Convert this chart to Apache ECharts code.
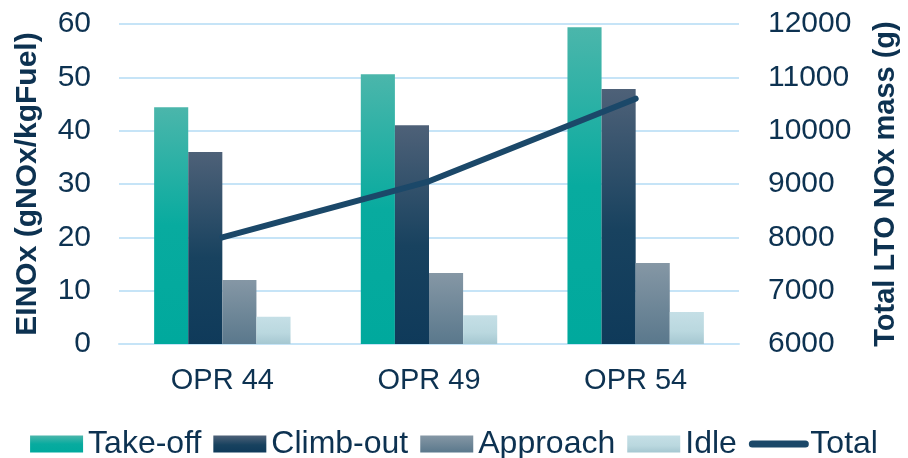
<!DOCTYPE html>
<html>
<head>
<meta charset="utf-8">
<script src="https://cdn.jsdelivr.net/npm/echarts@6/dist/echarts.min.js"></script>
<style>
  html, body { margin: 0; padding: 0; background: #ffffff; }
  #chart { width: 908px; height: 458px; }
</style>
</head>
<body>
<div id="chart"></div>
<script>
// Engine pressure-ratio cases
const categories = ['OPR 44', 'OPR 49', 'OPR 54'];

// NOx emission index per LTO mode (gNOx/kgFuel)
const takeOff  = [44.4, 50.6, 59.4];
const climbOut = [36.0, 41.0, 47.8];
const approach = [12.0, 13.3, 15.2];
const idle     = [5.1, 5.4, 6.0];

// Total LTO NOx mass (g)
const totalMass = [8000, 9050, 10600];

// Axis tick settings
const leftTicks  = { min: 0, max: 60, interval: 10 };
const rightTicks = { min: 6000, max: 12000, interval: 1000 };

const textColor = '#0d3251';
const gridColor = '#c6e4f7';
const lineColor = '#1b4869';
const font = '"Liberation Sans", Arial, sans-serif';

function vGrad(stops) {
  return new echarts.graphic.LinearGradient(0, 0, 0, 1,
    stops.map(([o, c]) => ({ offset: o, color: c })));
}

const fills = {
  takeOff:  vGrad([[0, '#4bb6ab'], [0.5, '#08ab9f'], [1, '#00a99d']]),
  climbOut: vGrad([[0, '#4e6178'], [0.55, '#18425f'], [1, '#0f3a5a']]),
  approach: vGrad([[0, '#8597a5'], [1, '#5a788c']]),
  idle:     vGrad([[0, '#c5dfe6'], [0.6, '#bad8df'], [1, '#a5c7d1']])
};

const chart = echarts.init(document.getElementById('chart'), null, { renderer: 'canvas' });

function barSeries(name, data, fill) {
  return {
    name, type: 'bar', yAxisIndex: 0, data,
    barGap: '0%', barCategoryGap: '34%',
    itemStyle: { color: fill },
    emphasis: { disabled: true }
  };
}

chart.setOption({
  animation: false,
  textStyle: { fontFamily: font, color: textColor },
  grid: { left: 119, right: 165, top: 24, bottom: 114, containLabel: false },
  legend: {
    top: 423, left: 'center',
    itemWidth: 53, itemHeight: 17, itemGap: 12,
    textStyle: { fontSize: 32, color: textColor, fontFamily: font },
    data: [
      { name: 'Take-off', icon: 'rect' },
      { name: 'Climb-out', icon: 'rect' },
      { name: 'Approach', icon: 'rect' },
      { name: 'Idle', icon: 'rect' },
      {
        name: 'Total',
        itemStyle: { color: 'rgba(0,0,0,0)', borderWidth: 0 },
        lineStyle: { color: lineColor, width: 7, cap: 'round' }
      }
    ]
  },
  xAxis: {
    type: 'category', data: categories,
    axisLine: { lineStyle: { color: gridColor, width: 2 } },
    axisTick: { show: false },
    axisLabel: { fontSize: 29, color: textColor, margin: 22 }
  },
  yAxis: [
    {
      type: 'value', ...leftTicks,
      name: 'EINOx (gNOx/kgFuel)', nameLocation: 'middle', nameGap: 76, nameRotate: 90,
      nameTextStyle: { fontSize: 30, fontWeight: 'bold', color: textColor },
      axisLabel: { fontSize: 30, color: textColor, margin: 28 },
      axisLine: { show: false }, axisTick: { show: false },
      splitLine: { lineStyle: { color: gridColor, width: 2 } }
    },
    {
      type: 'value', ...rightTicks,
      name: 'Total LTO NOx mass (g)', nameLocation: 'middle', nameGap: 132, nameRotate: 90,
      nameTextStyle: { fontSize: 29, fontWeight: 'bold', color: textColor },
      axisLabel: { fontSize: 30, color: textColor, margin: 29, formatter: v => String(v) },
      axisLine: { show: false }, axisTick: { show: false },
      splitLine: { show: false }
    }
  ],
  series: [
    barSeries('Take-off', takeOff, fills.takeOff),
    barSeries('Climb-out', climbOut, fills.climbOut),
    barSeries('Approach', approach, fills.approach),
    barSeries('Idle', idle, fills.idle),
    {
      name: 'Total', type: 'line', yAxisIndex: 1, data: totalMass,
      symbol: 'none', showSymbol: false,
      lineStyle: { color: lineColor, width: 6, cap: 'round' },
      itemStyle: { color: lineColor },
      emphasis: { disabled: true },
      z: 5
    }
  ]
});
</script>
</body>
</html>
